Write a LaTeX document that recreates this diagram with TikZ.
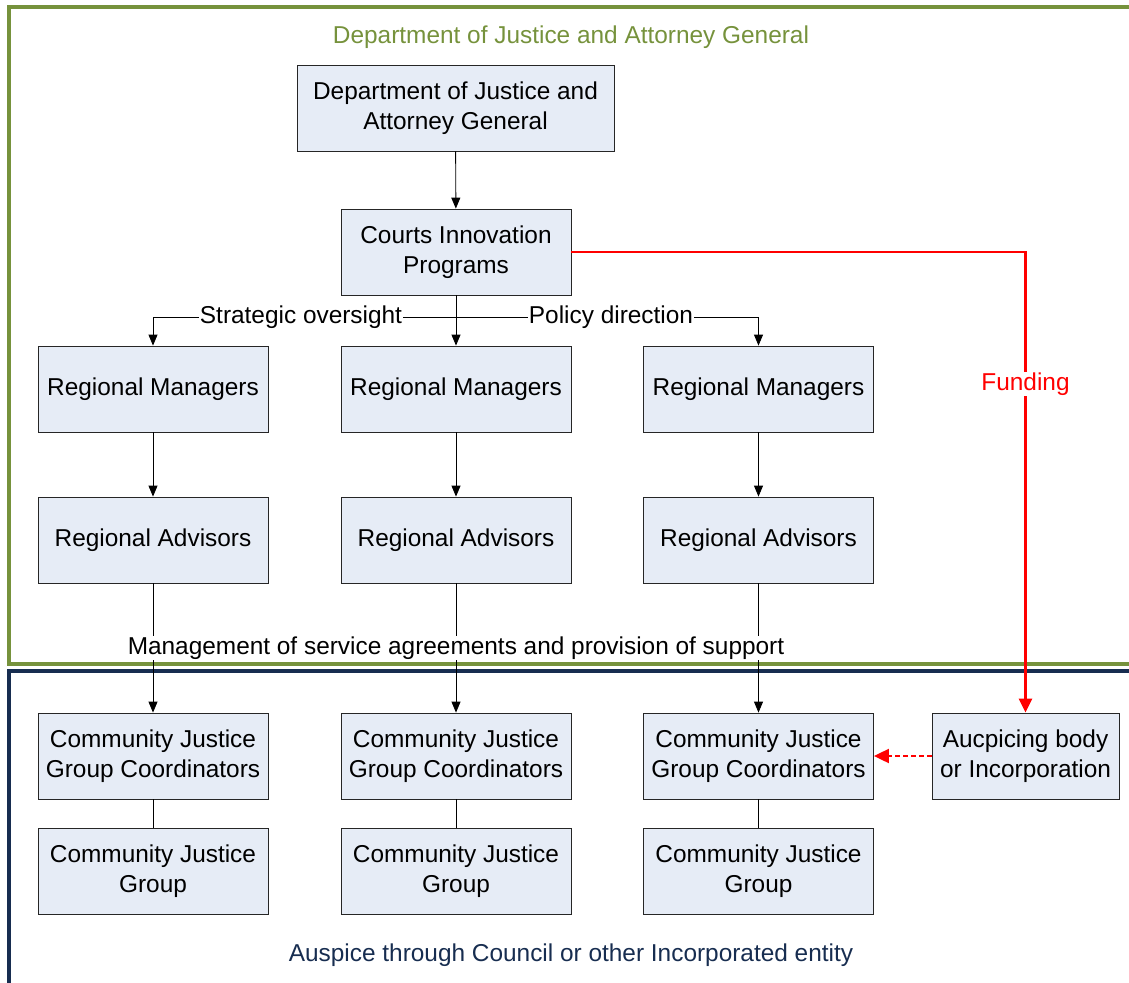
\documentclass[tikz,border=0pt]{standalone}
\usepackage{fontspec}
\setmainfont{Liberation Sans}
\usetikzlibrary{arrows.meta}
\definecolor{boxfill}{RGB}{230,236,246}
\definecolor{frgreen}{RGB}{118,146,60}
\definecolor{frblue}{RGB}{23,45,80}
\begin{document}
\begin{tikzpicture}[x=1pt,y=-1pt,
  box/.style={draw=black!85, fill=boxfill, minimum width=230pt, minimum height=86pt,
    align=center, inner sep=0pt, font=\fontsize{24.4}{29.5}\selectfont, line width=0.8pt},
  lbl/.style={fill=white, inner sep=1pt, font=\fontsize{24.4}{29.5}\selectfont},
  arr/.style={draw=black, line width=0.9pt, -{Triangle[length=11pt,width=9pt]}},
  link/.style={draw=black, line width=0.9pt},
  fund/.style={draw=red, line width=2.4pt, -{Triangle[length=14pt,width=13pt]}},
  fundd/.style={draw=red, line width=2pt, dash pattern=on 5pt off 3pt, -{Triangle[length=15pt,width=14pt]}},
  frame/.style={line width=3.6pt}]
\useasboundingbox (0,0) rectangle (1129,982);
\begin{scope}
  \clip (0,0) rectangle (1129,982);
  \draw[frame, draw=frgreen] (9,7) rectangle (1150,664);
  \draw[frame, draw=frblue] (9,671) rectangle (1150,1000);
\end{scope}
\node[text=frgreen, font=\fontsize{24.4}{29.5}\selectfont] (ttl) at (571,37) {Department of Justice and Attorney General};
\node[text=frblue, font=\fontsize{24.4}{29.5}\selectfont] (aus-ttl) at (571,955) {Auspice through Council or other Incorporated entity};

\node[box, minimum width=317pt] (dept) at (455.5,108) {Department of Justice and\\Attorney General};
\node[box] (cip) at (456,252) {Courts Innovation\\Programs};

\node[box] (rm1) at (153,389) {Regional Managers};
\node[box] (rm2) at (456,389) {Regional Managers};
\node[box] (rm3) at (758.5,389) {Regional Managers};

\node[box] (ra1) at (153,540) {Regional Advisors};
\node[box] (ra2) at (456,540) {Regional Advisors};
\node[box] (ra3) at (758.5,540) {Regional Advisors};

\node[box] (cc1) at (153,756) {Community Justice\\Group Coordinators};
\node[box] (cc2) at (456,756) {Community Justice\\Group Coordinators};
\node[box] (cc3) at (758.5,756) {Community Justice\\Group Coordinators};

\node[box] (cg1) at (153,871) {Community Justice\\Group};
\node[box] (cg2) at (456,871) {Community Justice\\Group};
\node[box] (cg3) at (758.5,871) {Community Justice\\Group};

\node[box, minimum width=187pt] (auc) at (1025.5,756) {Aucpicing body\\or Incorporation};

\draw[arr] (dept) -- (cip);
\coordinate (j) at (456,317);
\draw[arr] (cip) -- (rm2);
\draw[arr] (j) -| (rm1.north);
\draw[arr] (j) -| (rm3.north);
\node[lbl] (so) at (301,317) {Strategic oversight};
\node[lbl] (pd) at (611,317) {Policy direction};

\draw[arr] (rm1) -- (ra1);
\draw[arr] (rm2) -- (ra2);
\draw[arr] (rm3) -- (ra3);

\draw[arr] (ra1) -- (cc1);
\draw[arr] (ra2) -- (cc2);
\draw[arr] (ra3) -- (cc3);
\node[lbl] (mg) at (456,648) {Management of service agreements and provision of support};

\draw[link] (cc1) -- (cg1);
\draw[link] (cc2) -- (cg2);
\draw[link] (cc3) -- (cg3);

\draw[fund] (cip.east) -| (auc.north);
\node[lbl, text=red] (fd) at (1025.5,384) {Funding};
\draw[fundd] (auc.west) -- (cc3.east);
\end{tikzpicture}
\end{document}
